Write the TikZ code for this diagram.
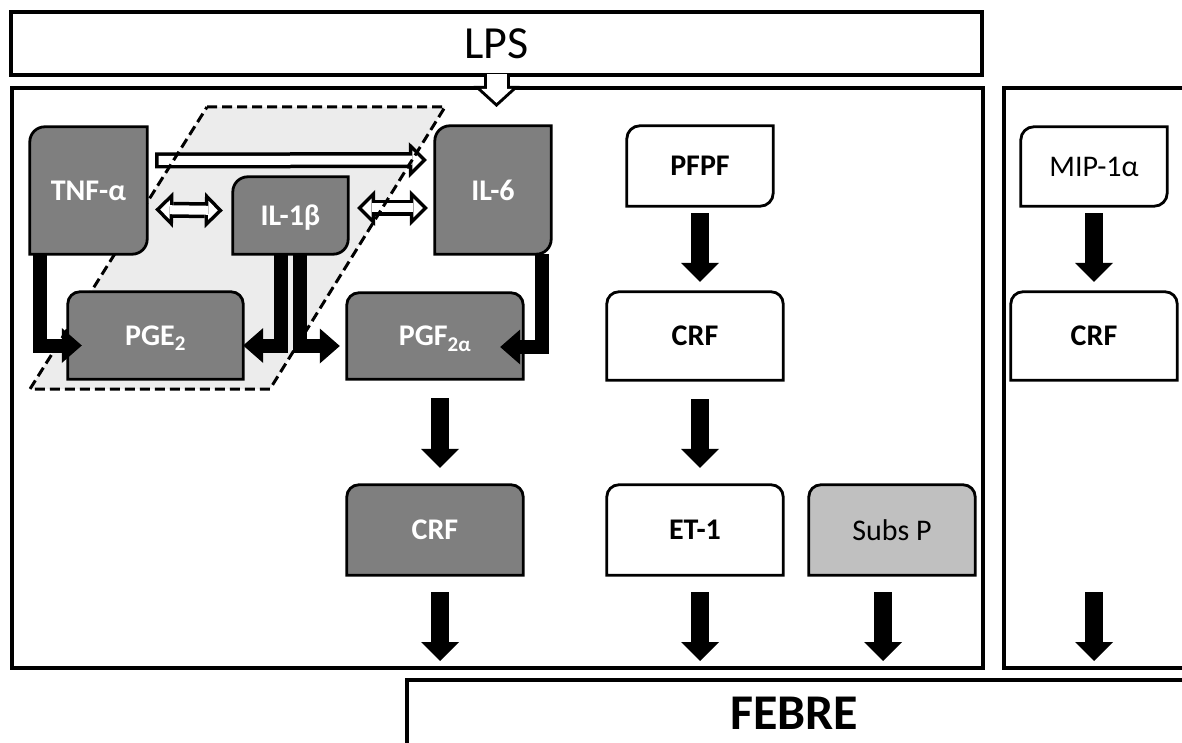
\documentclass[tikz,border=0pt]{standalone}
\usepackage{fontspec}
\setmainfont{Carlito}
\usetikzlibrary{arrows.meta}
\usetikzlibrary{backgrounds}

\definecolor{boxgray}{RGB}{127,127,127}
\definecolor{zonegray}{RGB}{236,236,236}
\definecolor{subsgray}{RGB}{192,192,192}

\tikzset{
  boxframe/.style={draw, line width=3.4pt},
  lbl/.style={inner sep=0pt, text depth=0pt, font=\fontsize{30}{33}\selectfont},
  lblb/.style={inner sep=0pt, text depth=0pt, font=\bfseries\fontsize{30}{33}\selectfont},
  darklbl/.style={lblb, text=white},
  darkbox/.style={draw, line width=2.8pt, fill=boxgray},
  whitebox/.style={draw, line width=2.8pt, fill=white},
  bigarrow/.style={line width=18pt, -{Triangle[length=19pt,width=38pt,line width=0pt]}},
  elbow/.style={line width=14pt, line join=miter, -{Triangle[length=20pt,width=35pt,line width=0pt]}},
  hollow/.style={line width=16pt, -{Triangle[length=18pt,width=36pt,line width=0pt]},
    postaction={draw=white, line width=9pt, -{Triangle[length=9.5pt,width=19pt,line width=0pt]}, shorten <=3.5pt, shorten >=5pt}},
  hollowboth/.style={line width=16pt, {Triangle[length=18pt,width=36pt,line width=0pt]}-{Triangle[length=18pt,width=36pt,line width=0pt]},
    postaction={draw=white, line width=9pt, {Triangle[length=9.5pt,width=19pt,line width=0pt]}-{Triangle[length=9.5pt,width=19pt,line width=0pt]}, shorten <=5pt, shorten >=5pt}},
  lpsarrow/.style={line width=26pt, -{Triangle[length=21pt,width=46pt,line width=0pt]},
    postaction={draw=white, line width=20pt, -{Triangle[length=13.9pt,width=30.5pt,line width=0pt]}, shorten <=-2.5pt, shorten >=4.1pt}}
}

\begin{document}
\begin{tikzpicture}[x=1pt,y=-1pt]
\useasboundingbox (0,0) rectangle (1182,743);

% LPS box
\node[boxframe, inner sep=0pt, minimum width=971pt, minimum height=63pt, font=\fontsize{46}{50}\selectfont] (lps) at (496.5,43.5) {LPS};

% cytokines
\node[darklbl, minimum width=117pt, minimum height=127pt] (tnf) at (88.5,190.5) {TNF-α};
\node[darklbl, minimum width=115pt, minimum height=77pt] (ilb) at (290.5,215.5) {IL-1β};
\node[darklbl, minimum width=116pt, minimum height=128pt] (ilsix) at (493,190) {IL-6};
% prostaglandins
\node[darklbl, minimum width=175pt, minimum height=87pt] (pge) at (155.5,335.5) {PGE\textsubscript{2}};
\node[darklbl, minimum width=176pt, minimum height=86pt] (pgf) at (435,336) {PGF\textsubscript{2α}};
\node[darklbl, minimum width=176pt, minimum height=90pt] (crfa) at (435,530) {CRF};
% PFPF column
\node[lblb, minimum width=146pt, minimum height=80pt] (pfpf) at (700,166) {PFPF};
\node[lblb, minimum width=176pt, minimum height=88pt] (crfb) at (695,336) {CRF};
\node[lblb, minimum width=176pt, minimum height=90pt] (etone) at (695,530) {ET-1};
\node[lbl, minimum width=166pt, minimum height=90pt] (subsp) at (892,530) {Subs P};
% MIP column
\node[lbl, minimum width=146pt, minimum height=79pt] (mip) at (1094,166.5) {MIP-1α};
\node[lblb, minimum width=166pt, minimum height=88pt] (crfc) at (1094,336) {CRF};

% fever
\node[inner sep=0pt, font=\bfseries\fontsize{50}{54}\selectfont] (febre) at (794,713) {FEBRE};

\begin{scope}[on background layer]
% frames
\draw[boxframe] (12,88) rectangle (983,668);
\draw[boxframe] (1190,88) -- (1004,88) -- (1004,668) -- (1190,668);
\draw[boxframe] (1190,680) -- (407,680) -- (407,750);

% shaded zone
\fill[zonegray] (207,107) -- (445,107) -- (270,389) -- (30,389) -- cycle;

% hollow arrows
\draw[hollow] ([shift={(8pt,30pt)}]tnf.east) -- ([shift={(-8pt,30pt)}]ilsix.west);
\draw[hollowboth] ([shift={(8pt,-19pt)}]tnf.east) -- ([shift={(-10pt,5pt)}]ilb.west);
\draw[hollowboth] ([shift={(9pt,7.5pt)}]ilb.east) -- ([shift={(-7pt,-18pt)}]ilsix.west);

% dashed border
\draw[line width=3pt, dash pattern=on 10pt off 5pt] (207,107) -- (445,107) -- (270,389) -- (30,389) -- cycle;

% boxes
\foreach \n in {tnf,ilb,ilsix}
  \draw[darkbox] (\n.west) [rounded corners=15pt] -- (\n.north west) -- (\n.north) [sharp corners] -- (\n.north east) -- (\n.east) [rounded corners=15pt] -- (\n.south east) -- (\n.south) [sharp corners] -- (\n.south west) -- cycle;
\foreach \n in {pfpf,mip}
  \draw[whitebox] (\n.west) [rounded corners=13pt] -- (\n.north west) -- (\n.north) [sharp corners] -- (\n.north east) -- (\n.east) [rounded corners=13pt] -- (\n.south east) -- (\n.south) [sharp corners] -- (\n.south west) -- cycle;
\foreach \n in {pge,pgf,crfa}
  \draw[darkbox] (\n.south west) -- (\n.west) [rounded corners=12pt] -- (\n.north west) -- (\n.north east) -- (\n.east) [sharp corners] -- (\n.south east) -- cycle;
\foreach \n in {crfb,etone,crfc}
  \draw[whitebox] (\n.south west) -- (\n.west) [rounded corners=12pt] -- (\n.north west) -- (\n.north east) -- (\n.east) [sharp corners] -- (\n.south east) -- cycle;
\draw[darkbox, fill=subsgray] (subsp.south west) -- (subsp.west) [rounded corners=12pt] -- (subsp.north west) -- (subsp.north east) -- (subsp.east) [sharp corners] -- (subsp.south east) -- cycle;
\end{scope}

% LPS arrow
\coordinate (lpstip) at (496.5,107);
\draw[lpsarrow] (lps.south) -- (lpstip);

% elbow arrows
\draw[elbow] ([xshift=10pt]tnf.south west) |- ([shift={(14pt,-10pt)}]pge.west);
\draw[elbow] ([xshift=-10pt]ilb.south) |- ([yshift=-10pt]pge.east);
\draw[elbow] ([xshift=9pt]ilb.south) |- ([shift={(-7pt,-10pt)}]pgf.west);
\draw[elbow] ([xshift=-9pt]ilsix.south east) |- ([shift={(-23pt,-11pt)}]pgf.east);

% down arrows
\draw[bigarrow, shorten <=7pt, shorten >=10pt] (pfpf.south) -- ([xshift=5pt]crfb.north);
\draw[bigarrow, shorten <=7pt, shorten >=10pt] (mip.south) -- (crfc.north);
\draw[bigarrow, shorten <=19pt, shorten >=17pt] ([xshift=5pt]pgf.south) -- ([xshift=5pt]crfa.north);
\draw[bigarrow, shorten <=19pt, shorten >=17pt] ([xshift=5pt]crfb.south) -- ([xshift=5pt]etone.north);

% to fever
\coordinate (fa) at (440,661);
\coordinate (fb) at (700,661);
\coordinate (fc) at (883,661);
\coordinate (fd) at (1094,661);
\draw[bigarrow, shorten <=17pt] ([xshift=5pt]crfa.south) -- (fa);
\draw[bigarrow, shorten <=17pt] ([xshift=5pt]etone.south) -- (fb);
\draw[bigarrow, shorten <=17pt] ([xshift=-9pt]subsp.south) -- (fc);
\draw[bigarrow, shorten <=212pt] (crfc.south) -- (fd);

\end{tikzpicture}
\end{document}
